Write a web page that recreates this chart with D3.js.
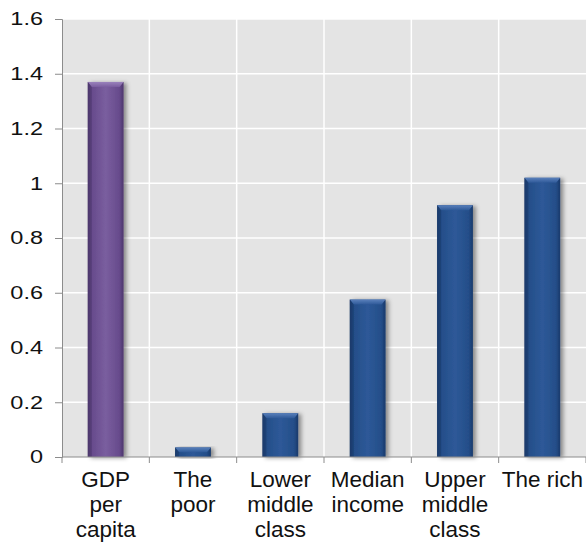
<!DOCTYPE html>
<html>
<head>
<meta charset="utf-8">
<script src="https://cdn.jsdelivr.net/npm/d3@7"></script>
<style>
  html, body { margin: 0; padding: 0; background: #ffffff; }
  svg { display: block; font-family: Arial, "Liberation Sans", sans-serif; }
</style>
</head>
<body>
<svg id="chart" width="586" height="542"></svg>
<script>
// Category labels (one entry per line of text) and the value for each category
const categories = ["GDP per capita", "The poor", "Lower middle class", "Median income", "Upper middle class", "The rich"];
const categoryLines = [
  ["GDP", "per", "capita"],
  ["The", "poor"],
  ["Lower", "middle", "class"],
  ["Median", "income"],
  ["Upper", "middle", "class"],
  ["The rich"]
];
const values = [1.37, 0.035, 0.16, 0.575, 0.92, 1.02];
const yTickValues = [0, 0.2, 0.4, 0.6, 0.8, 1, 1.2, 1.4, 1.6];
const yTickLabels = ["0", "0.2", "0.4", "0.6", "0.8", "1", "1.2", "1.4", "1.6"];

const svg = d3.select("#chart");
const W = 586, H = 542;
const margin = { left: 62, right: 0, top: 19, bottom: 85 };
const plotW = W - margin.left - margin.right;
const plotH = H - margin.top - margin.bottom;

const x = d3.scaleBand().domain(categories).range([0, plotW]).padding(0);
const y = d3.scaleLinear().domain([0, 1.6]).range([plotH, 0]);

const defs = svg.append("defs");

// Bar palettes: the GDP bar is purple, the income groups are blue
const palettes = {
  purple: { dark: "#4c356b", mid: "#674b8c", light: "#7a5e9f", top: "#9a82bc" },
  blue:   { dark: "#19396a", mid: "#244e89", light: "#2e5998", top: "#5a80bb" }
};

Object.entries(palettes).forEach(([name, p]) => {
  const g = defs.append("linearGradient").attr("id", "grad-" + name)
    .attr("x1", "0").attr("x2", "1").attr("y1", "0").attr("y2", "0");
  g.append("stop").attr("offset", "0").attr("stop-color", p.dark);
  g.append("stop").attr("offset", "0.12").attr("stop-color", p.mid);
  g.append("stop").attr("offset", "0.5").attr("stop-color", p.light);
  g.append("stop").attr("offset", "0.88").attr("stop-color", p.mid);
  g.append("stop").attr("offset", "1").attr("stop-color", p.dark);
  const t = defs.append("linearGradient").attr("id", "top-" + name)
    .attr("x1", "0").attr("x2", "0").attr("y1", "0").attr("y2", "1");
  t.append("stop").attr("offset", "0").attr("stop-color", p.top);
  t.append("stop").attr("offset", "1").attr("stop-color", p.light);
});

const shadow = defs.append("filter").attr("id", "shadow")
  .attr("x", "-30%").attr("y", "-10%").attr("width", "180%").attr("height", "130%");
shadow.append("feDropShadow").attr("dx", 3).attr("dy", 1).attr("stdDeviation", 2)
  .attr("flood-color", "#000").attr("flood-opacity", 0.4);

const g = svg.append("g").attr("transform", `translate(${margin.left},${margin.top})`);

// Plot background
g.append("rect").attr("x", 0).attr("y", 0).attr("width", plotW).attr("height", plotH)
  .attr("fill", "#e4e4e4");

// Horizontal gridlines
g.append("g").selectAll("line").data(yTickValues.filter(v => v > 0)).join("line")
  .attr("x1", 0).attr("x2", plotW)
  .attr("y1", d => y(d)).attr("y2", d => y(d))
  .attr("stroke", "#ffffff").attr("stroke-width", 1.5);

// Vertical gridlines between categories
g.append("g").selectAll("line").data(categories.slice(1)).join("line")
  .attr("x1", d => x(d)).attr("x2", d => x(d))
  .attr("y1", 0).attr("y2", plotH)
  .attr("stroke", "#ffffff").attr("stroke-width", 1.5);

// Bars with a bevelled top and a soft shadow
const barFrac = 0.41;
const bars = g.append("g").selectAll("g.bar").data(categories).join("g").attr("class", "bar")
  .attr("filter", "url(#shadow)");

bars.each(function(d, i) {
  const name = i === 0 ? "purple" : "blue";
  const bw = x.bandwidth() * barFrac;
  const bx = x(d) + (x.bandwidth() - bw) / 2;
  const by = y(values[i]);
  const bh = y(0) - by;
  const sel = d3.select(this);
  sel.append("rect").attr("x", bx).attr("y", by).attr("width", bw).attr("height", bh)
    .attr("fill", `url(#grad-${name})`);
  const bev = Math.min(5, bh / 2);
  sel.append("path")
    .attr("d", `M${bx},${by} L${bx + bw},${by} L${bx + bw - 4},${by + bev} L${bx + 4},${by + bev} Z`)
    .attr("fill", `url(#top-${name})`);
  sel.append("path")
    .attr("d", `M${bx},${by} L${bx + 4},${by + bev} L${bx + 4},${by + bh} L${bx},${by + bh} Z`)
    .attr("fill", palettes[name].dark).attr("opacity", 0.5);
});

// Y axis; tick labels are drawn slightly widened
const yStretch = 1.27;
const yAxis = d3.axisLeft(y).tickValues(yTickValues)
  .tickFormat((d, i) => yTickLabels[i]).tickSize(7).tickPadding(12);
const yg = g.append("g").call(yAxis);
yg.select(".domain").attr("stroke", "#8c8c8c");
yg.selectAll(".tick line").attr("stroke", "#8c8c8c");
yg.selectAll(".tick text")
  .attr("font-size", 18.5).attr("fill", "#111")
  .attr("x", -19 / yStretch)
  .attr("transform", `scale(${yStretch},1)`);

// X axis with ticks at category boundaries
const boundaries = categories.map(c => x(c)).concat([plotW]);
const xg = g.append("g").attr("transform", `translate(0,${plotH})`);
xg.append("line").attr("x1", 0).attr("x2", plotW).attr("y1", 0).attr("y2", 0)
  .attr("stroke", "#8c8c8c");
xg.selectAll("line.tk").data(boundaries).join("line").attr("class", "tk")
  .attr("x1", d => d).attr("x2", d => d).attr("y1", 0).attr("y2", 6)
  .attr("stroke", "#8c8c8c");

const labels = xg.selectAll("text.cat").data(categories).join("text").attr("class", "cat")
  .attr("x", d => x(d) + x.bandwidth() / 2)
  .attr("y", 30)
  .attr("text-anchor", "middle")
  .attr("font-size", 22.5)
  .attr("fill", "#111");
labels.each(function(d, i) {
  d3.select(this).selectAll("tspan").data(categoryLines[i]).join("tspan")
    .attr("x", x(d) + x.bandwidth() / 2)
    .attr("dy", (t, j) => j === 0 ? 0 : 25)
    .text(t => t);
});
</script>
</body>
</html>
